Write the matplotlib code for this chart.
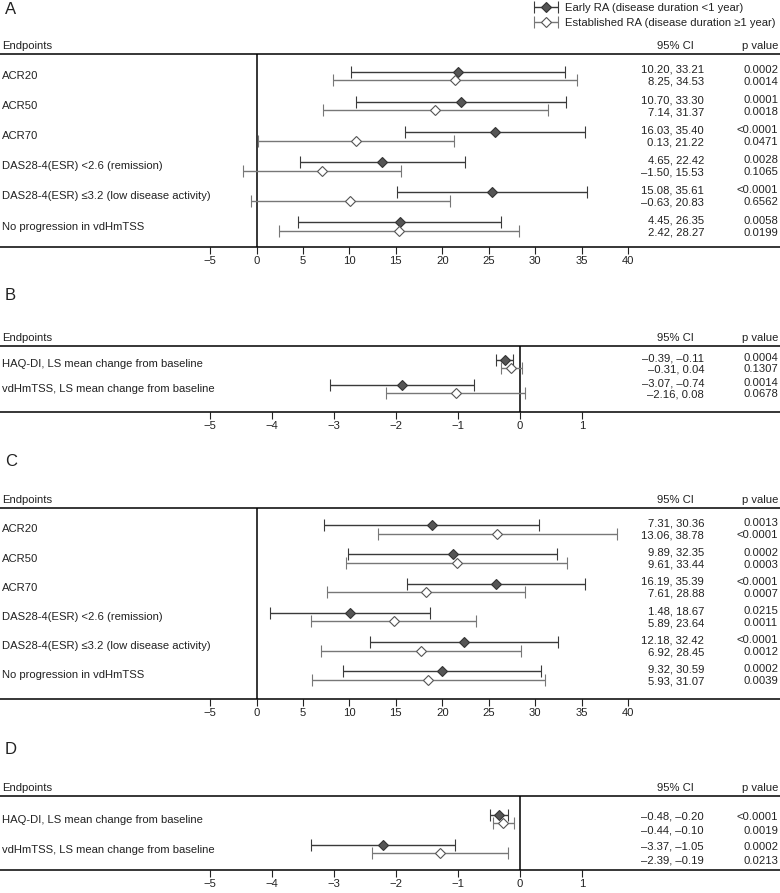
import matplotlib.pyplot as plt
from matplotlib.legend_handler import HandlerErrorbar
from matplotlib.container import ErrorbarContainer
import numpy as np

plt.rcParams['font.family'] = ['Liberation Sans', 'DejaVu Sans']
plt.rcParams['font.size'] = 8.1
plt.rcParams['axes.unicode_minus'] = True

W, H = 780, 893

# ---- data ----
labels_ac = ['ACR20', 'ACR50', 'ACR70',
             'DAS28-4(ESR) <2.6 (remission)',
             'DAS28-4(ESR) \u22643.2 (low disease activity)',
             'No progression in vdHmTSS']
labels_bd = ['HAQ-DI, LS mean change from baseline',
             'vdHmTSS, LS mean change from baseline']

# panel A
a_early_est = [21.71, 22.00, 25.72, 13.54, 25.35, 15.40]
a_early_lo = [10.20, 10.70, 16.03, 4.65, 15.08, 4.45]
a_early_hi = [33.21, 33.30, 35.40, 22.42, 35.61, 26.35]
a_early_p = ['0.0002', '0.0001', '<0.0001', '0.0028', '<0.0001', '0.0058']
a_est_est = [21.39, 19.26, 10.68, 7.02, 10.10, 15.35]
a_est_lo = [8.25, 7.14, 0.13, -1.50, -0.63, 2.42]
a_est_hi = [34.53, 31.37, 21.22, 15.53, 20.83, 28.27]
a_est_p = ['0.0014', '0.0018', '0.0471', '0.1065', '0.6562', '0.0199']

# panel B
b_early_est = [-0.25, -1.91]
b_early_lo = [-0.39, -3.07]
b_early_hi = [-0.11, -0.74]
b_early_p = ['0.0004', '0.0014']
b_est_est = [-0.14, -1.04]
b_est_lo = [-0.31, -2.16]
b_est_hi = [0.04, 0.08]
b_est_p = ['0.1307', '0.0678']

# panel C
c_early_est = [18.84, 21.12, 25.79, 10.08, 22.30, 19.96]
c_early_lo = [7.31, 9.89, 16.19, 1.48, 12.18, 9.32]
c_early_hi = [30.36, 32.35, 35.39, 18.67, 32.42, 30.59]
c_early_p = ['0.0013', '0.0002', '<0.0001', '0.0215', '<0.0001', '0.0002']
c_est_est = [25.92, 21.53, 18.25, 14.77, 17.69, 18.50]
c_est_lo = [13.06, 9.61, 7.61, 5.89, 6.92, 5.93]
c_est_hi = [38.78, 33.44, 28.88, 23.64, 28.45, 31.07]
c_est_p = ['<0.0001', '0.0003', '0.0007', '0.0011', '0.0012', '0.0039']

# panel D
d_early_est = [-0.34, -2.21]
d_early_lo = [-0.48, -3.37]
d_early_hi = [-0.20, -1.05]
d_early_p = ['<0.0001', '0.0002']
d_est_est = [-0.27, -1.29]
d_est_lo = [-0.44, -2.39]
d_est_hi = [-0.10, -0.19]
d_est_p = ['0.0019', '0.0213']

ticks_ac = [-5, 0, 5, 10, 15, 20, 25, 30, 35, 40]
ticks_bd = [-5, -4, -3, -2, -1, 0, 1]

series_names = ['Early RA (disease duration <1 year)',
                'Established RA (disease duration \u22651 year)']

EARLY_FACE, EARLY_LINE = '#555555', '#3a3a3a'
EST_EDGE, EST_LINE = '#555555', '#777777'
TXT = '#222222'


def fmt(v):
    return ('\u2013%.2f' % -v) if v < 0 else '%.2f' % v


fig = plt.figure(figsize=(W / 100, H / 100), dpi=100)


def panel(letter, letter_y, top, bottom, first, pitch, x0_px, px_per_unit,
          labels, early, est, ticks, moff=4.3, ci_shift=0.0, ci_gap=6.0,
          lab_shift=0.0):
    ax = fig.add_axes([0, 1 - bottom / H, 1, (bottom - top) / H])
    ax.set_xlim(-x0_px / px_per_unit, (W - x0_px) / px_per_unit)
    ax.set_ylim(bottom, top)
    for s in ['left', 'right']:
        ax.spines[s].set_visible(False)
    for s in ['top', 'bottom']:
        ax.spines[s].set_linewidth(1.1)
    ax.set_yticks([])
    ax.set_xticks(ticks)
    ax.tick_params(axis='x', length=5, width=0.8, pad=1.5, colors=TXT)
    ax.axvline(0, color='black', lw=1.1, zorder=1)
    tr = ax.get_yaxis_transform()

    fig.text(5 / W, 1 - letter_y / H, letter, fontsize=12, va='center',
             ha='left', color=TXT)
    ax.text(2 / W, top - 8, 'Endpoints', transform=tr, va='center', color=TXT)
    ax.text(675 / W, top - 8, '95% CI', transform=tr, va='center',
            ha='center', color=TXT)
    ax.text(778 / W, top - 8, 'p value', transform=tr, va='center',
            ha='right', color=TXT)

    n = len(labels)
    ys = first + pitch * np.arange(n)
    handles = []
    for k, (e, lo, hi, p) in enumerate([early, est]):
        e, lo, hi = np.array(e), np.array(lo), np.array(hi)
        yy = ys + (-moff if k == 0 else moff)
        if k == 0:
            h = ax.errorbar(e, yy, xerr=[e - lo, hi - e], fmt='D', ms=4.8,
                            mfc=EARLY_FACE, mec='#333333', mew=0.8,
                            ecolor=EARLY_LINE, elinewidth=1.0, capsize=4.2,
                            capthick=1.0, zorder=3)
        else:
            h = ax.errorbar(e, yy, xerr=[e - lo, hi - e], fmt='D', ms=4.8,
                            mfc='white', mec=EST_EDGE, mew=0.8,
                            ecolor=EST_LINE, elinewidth=1.0, capsize=4.2,
                            capthick=1.0, zorder=3)
        handles.append(h)
        ty = ys + ci_shift + (-ci_gap if k == 0 else ci_gap)
        for i in range(n):
            ax.text(704 / W, ty[i], '%s, %s' % (fmt(lo[i]), fmt(hi[i])),
                    transform=tr, ha='right', va='center', color=TXT)
            ax.text(778 / W, ty[i], p[i], transform=tr, ha='right',
                    va='center', color=TXT)
    for i in range(n):
        ax.text(2 / W, ys[i] + lab_shift, labels[i], transform=tr,
                ha='left', va='center', color=TXT)
    return ax, handles


axA, hA = panel('A', 10, 54, 247, 76, 30.1, 256.5, 9.29, labels_ac,
                (a_early_est, a_early_lo, a_early_hi, a_early_p),
                (a_est_est, a_est_lo, a_est_hi, a_est_p), ticks_ac)
panel('B', 296, 346, 412, 364, 25, 520, 62, labels_bd,
      (b_early_est, b_early_lo, b_early_hi, b_early_p),
      (b_est_est, b_est_lo, b_est_hi, b_est_p), ticks_bd, moff=3.8,
      ci_gap=5.5)
panel('C', 462, 508, 699, 529.5, 29.2, 256.5, 9.29, labels_ac,
      (c_early_est, c_early_lo, c_early_hi, c_early_p),
      (c_est_est, c_est_lo, c_est_hi, c_est_p), ticks_ac)
panel('D', 750, 796, 870, 819, 30, 520, 62, labels_bd,
      (d_early_est, d_early_lo, d_early_hi, d_early_p),
      (d_est_est, d_est_lo, d_est_hi, d_est_p), ticks_bd, moff=3.8,
      ci_shift=5, ci_gap=7, lab_shift=1)

fig.legend(hA, series_names, loc='upper right', bbox_to_anchor=(779 / W, 1.0),
           frameon=False, handlelength=2.6, handletextpad=0.4,
           borderaxespad=0, borderpad=0.3, labelspacing=0.4,
           fontsize=8.1, labelcolor=TXT,
           handler_map={ErrorbarContainer: HandlerErrorbar(xerr_size=1.05)})

fig.savefig('out.png', dpi=100)
